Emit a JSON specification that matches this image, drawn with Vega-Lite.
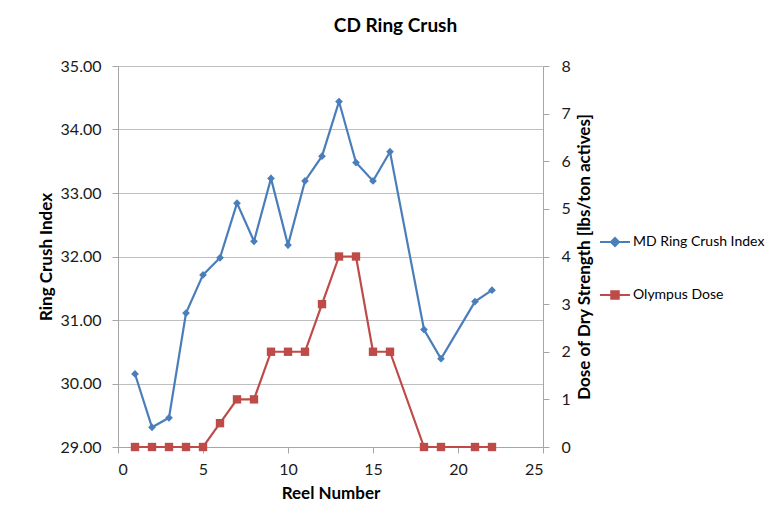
{
  "$schema": "https://vega.github.io/schema/vega-lite/v6.json",
  "width": 425,
  "height": 381,
  "autosize": {"type": "none"},
  "padding": {"left": 118, "top": 66, "right": 226, "bottom": 79},
  "background": "white",
  "title": {"text": "CD Ring Crush", "font": "Lato", "fontSize": 19, "fontWeight": "bold", "color": "#000000", "dx": 65, "offset": 22},
  "config": {
    "view": {"stroke": null},
    "axis": {"labelFont": "Lato", "titleFont": "Lato", "labelFontSize": 16, "titleFontSize": 17, "titleFontWeight": "bold", "labelColor": "#1a1a1a", "titleColor": "#000", "domainColor": "#a6a6a6", "tickColor": "#a6a6a6", "gridColor": "#bfbfbf", "tickSize": 6}
  },
  "data": {"values": [
    {"reel": 1, "value": 30.15, "series": "MD Ring Crush Index"},
    {"reel": 2, "value": 29.31, "series": "MD Ring Crush Index"},
    {"reel": 3, "value": 29.46, "series": "MD Ring Crush Index"},
    {"reel": 4, "value": 31.11, "series": "MD Ring Crush Index"},
    {"reel": 5, "value": 31.71, "series": "MD Ring Crush Index"},
    {"reel": 6, "value": 31.98, "series": "MD Ring Crush Index"},
    {"reel": 7, "value": 32.84, "series": "MD Ring Crush Index"},
    {"reel": 8, "value": 32.24, "series": "MD Ring Crush Index"},
    {"reel": 9, "value": 33.23, "series": "MD Ring Crush Index"},
    {"reel": 10, "value": 32.18, "series": "MD Ring Crush Index"},
    {"reel": 11, "value": 33.19, "series": "MD Ring Crush Index"},
    {"reel": 12, "value": 33.58, "series": "MD Ring Crush Index"},
    {"reel": 13, "value": 34.44, "series": "MD Ring Crush Index"},
    {"reel": 14, "value": 33.48, "series": "MD Ring Crush Index"},
    {"reel": 15, "value": 33.19, "series": "MD Ring Crush Index"},
    {"reel": 16, "value": 33.65, "series": "MD Ring Crush Index"},
    {"reel": 18, "value": 30.85, "series": "MD Ring Crush Index"},
    {"reel": 19, "value": 30.39, "series": "MD Ring Crush Index"},
    {"reel": 21, "value": 31.29, "series": "MD Ring Crush Index"},
    {"reel": 22, "value": 31.47, "series": "MD Ring Crush Index"},
    {"reel": 1, "value": 0, "series": "Olympus Dose"},
    {"reel": 2, "value": 0, "series": "Olympus Dose"},
    {"reel": 3, "value": 0, "series": "Olympus Dose"},
    {"reel": 4, "value": 0, "series": "Olympus Dose"},
    {"reel": 5, "value": 0, "series": "Olympus Dose"},
    {"reel": 6, "value": 0.5, "series": "Olympus Dose"},
    {"reel": 7, "value": 1, "series": "Olympus Dose"},
    {"reel": 8, "value": 1, "series": "Olympus Dose"},
    {"reel": 9, "value": 2, "series": "Olympus Dose"},
    {"reel": 10, "value": 2, "series": "Olympus Dose"},
    {"reel": 11, "value": 2, "series": "Olympus Dose"},
    {"reel": 12, "value": 3, "series": "Olympus Dose"},
    {"reel": 13, "value": 4, "series": "Olympus Dose"},
    {"reel": 14, "value": 4, "series": "Olympus Dose"},
    {"reel": 15, "value": 2, "series": "Olympus Dose"},
    {"reel": 16, "value": 2, "series": "Olympus Dose"},
    {"reel": 18, "value": 0, "series": "Olympus Dose"},
    {"reel": 19, "value": 0, "series": "Olympus Dose"},
    {"reel": 21, "value": 0, "series": "Olympus Dose"},
    {"reel": 22, "value": 0, "series": "Olympus Dose"}
  ]},
  "encoding": {
    "x": {"field": "reel", "type": "quantitative", "scale": {"domain": [0, 25], "nice": false}, "axis": {"title": "Reel Number", "values": [0, 5, 10, 15, 20, 25], "grid": false, "labelPadding": 8, "titlePadding": 8}},
    "color": {"field": "series", "type": "nominal", "scale": {"domain": ["MD Ring Crush Index", "Olympus Dose"], "range": ["#4A7EBB", "#BE4B48"]}, "legend": {"title": null, "orient": "none", "legendX": 481, "legendY": 160, "labelFont": "Lato", "labelFontSize": 14, "labelColor": "#000", "labelOffset": 2, "labelLimit": 200, "rowPadding": 28, "symbolSize": 900, "symbolStrokeWidth": 2, "encode": {"symbols": {"update": {"shape": {"signal": "datum.value === 'Olympus Dose' ? 'M-1,0H1M-0.25,-0.25H0.25V0.25H-0.25Z' : 'M-1,0H1M0,-0.27L0.27,0L0,0.27L-0.27,0Z'"}, "fill": {"scale": "color", "field": "value"}, "stroke": {"scale": "color", "field": "value"}, "opacity": {"value": 1}}}}}}
  },
  "layer": [
    {
      "transform": [{"filter": "datum.series === 'MD Ring Crush Index'"}],
      "encoding": {
        "y": {"field": "value", "type": "quantitative", "scale": {"domain": [29, 35], "nice": false, "zero": false}, "axis": {"title": "Ring Crush Index", "orient": "left", "values": [29, 30, 31, 32, 33, 34, 35], "format": ".2f", "grid": true, "labelPadding": 11, "titlePadding": 5}}
      },
      "layer": [
        {"mark": {"type": "line", "strokeWidth": 2.2}},
        {"mark": {"type": "point", "filled": true, "opacity": 1, "size": 60, "shape": "diamond"}}
      ]
    },
    {
      "transform": [{"filter": "datum.series === 'Olympus Dose'"}],
      "encoding": {
        "y": {"field": "value", "type": "quantitative", "scale": {"domain": [0, 8], "nice": false}, "axis": {"title": "Dose of Dry Strength [lbs/ton actives]", "orient": "right", "values": [0, 1, 2, 3, 4, 5, 6, 7, 8], "grid": false, "labelPadding": 12, "titlePadding": 6, "titleAngle": 270, "titleBaseline": "top"}}
      },
      "layer": [
        {"mark": {"type": "line", "strokeWidth": 2.2}},
        {"mark": {"type": "point", "filled": true, "opacity": 1, "size": 70, "shape": "square"}}
      ]
    }
  ],
  "resolve": {"scale": {"y": "independent"}}
}
